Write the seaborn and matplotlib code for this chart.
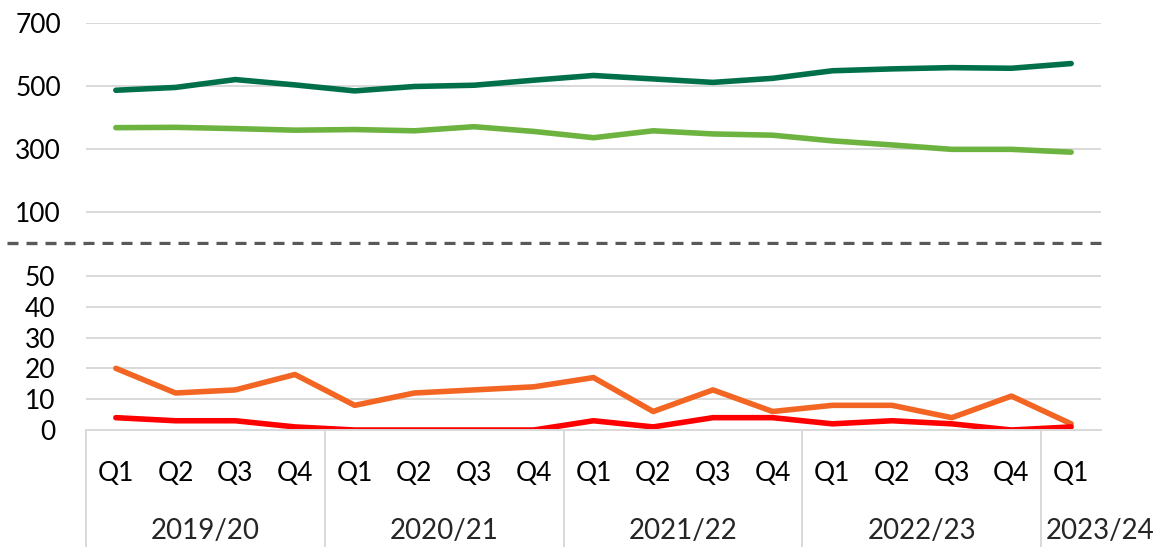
import matplotlib
matplotlib.use("Agg")
import matplotlib.pyplot as plt
import matplotlib.transforms as mtransforms
import seaborn as sns
import pandas as pd

# categories
quarters = ["Q1", "Q2", "Q3", "Q4"] * 4 + ["Q1"]
years = ["2019/20", "2020/21", "2021/22", "2022/23", "2023/24"]
year_sizes = [4, 4, 4, 4, 1]

# upper panel series
series_dark = [486, 495, 520, 503, 484, 498, 502, 518, 533, 522, 511, 524, 548, 554, 558, 556, 571]
series_light = [367, 368, 364, 359, 361, 357, 370, 355, 335, 357, 347, 343, 325, 312, 298, 298, 289]
# lower panel series
series_orange = [20, 12, 13, 18, 8, 12, 13, 14, 17, 6, 13, 6, 8, 8, 4, 11, 2]
series_red = [4, 3, 3, 1, 0, 0, 0, 0, 3, 1, 4, 4, 2, 3, 2, 0, 1]

top_ticks = [100, 300, 500, 700]
bottom_ticks = [0, 10, 20, 30, 40, 50]

sns.set_theme(style="white")
plt.rcParams["font.family"] = ["Lato", "DejaVu Sans"]

W, H = 1155, 547
fig = plt.figure(figsize=(W / 100, H / 100), dpi=100)
ax_top = fig.add_axes([86 / W, 1 - 243 / H, 1015 / W, 220 / H])
ax_bot = fig.add_axes([86 / W, 1 - 430 / H, 1015 / W, 185 / H])

x = list(range(len(quarters)))
n = len(x)
df_top = pd.DataFrame({"x": x * 2, "value": series_dark + series_light,
                       "series": ["dark"] * n + ["light"] * n})
df_bot = pd.DataFrame({"x": x * 2, "value": series_orange + series_red,
                       "series": ["orange"] * n + ["red"] * n})

line_kw = dict(linewidth=4.0, solid_capstyle="round", solid_joinstyle="round", legend=False)
sns.lineplot(data=df_top, x="x", y="value", hue="series",
             palette={"dark": "#00704A", "light": "#6DB33F"}, ax=ax_top, **line_kw)
sns.lineplot(data=df_bot, x="x", y="value", hue="series",
             palette={"orange": "#F26522", "red": "#FF0000"}, ax=ax_bot, **line_kw)

for ax in (ax_top, ax_bot):
    ax.set_xlim(-0.5, n - 0.5)
    ax.set_xlabel("")
    ax.set_ylabel("")
    ax.grid(axis="y", color="#d9d9d9", linewidth=1.4)
    ax.set_axisbelow(True)
    for s in ax.spines.values():
        s.set_visible(False)
    ax.tick_params(axis="y", length=0, labelsize=19, colors="black")

ax_top.set_ylim(0, 700)
ax_top.set_yticks(top_ticks)
ax_top.tick_params(axis="y", pad=18)
ax_top.set_xticks([])

ax_bot.set_ylim(0, 60)
ax_bot.set_yticks(bottom_ticks)
ax_bot.tick_params(axis="y", pad=22)
ax_bot.spines["bottom"].set_visible(True)
ax_bot.spines["bottom"].set_color("#d9d9d9")
ax_bot.spines["bottom"].set_linewidth(1.4)

# quarter labels and group separators
ax_bot.set_xticks(x, quarters)
ax_bot.tick_params(axis="x", which="major", length=0, pad=22, labelsize=19, colors="black")
bounds = []
start = 0
for size in year_sizes:
    bounds.append(start - 0.5)
    start += size
ax_bot.set_xticks(bounds, minor=True)
ax_bot.tick_params(axis="x", which="minor", bottom=True, length=84, width=1.4,
                   color="#d9d9d9", direction="out")

# year labels
trans = mtransforms.blended_transform_factory(ax_bot.transData, ax_bot.transAxes)
start = 0
for label, size in zip(years, year_sizes):
    if size > 1:
        ax_bot.text(start + (size - 1) / 2, -0.546, label, transform=trans,
                    ha="center", va="center", fontsize=20)
    else:
        ax_bot.text(start - 0.42, -0.546, label, transform=trans,
                    ha="left", va="center", fontsize=20)
    start += size

# dashed break line between the panels
trans_top = mtransforms.blended_transform_factory(ax_top.transAxes, ax_top.transData)
ax_top.plot([-0.078, 1.0], [0, 0], transform=trans_top, clip_on=False,
            color="#595959", linewidth=2.4, dashes=(3.3, 2.4))

fig.savefig("out.png", dpi=100)
